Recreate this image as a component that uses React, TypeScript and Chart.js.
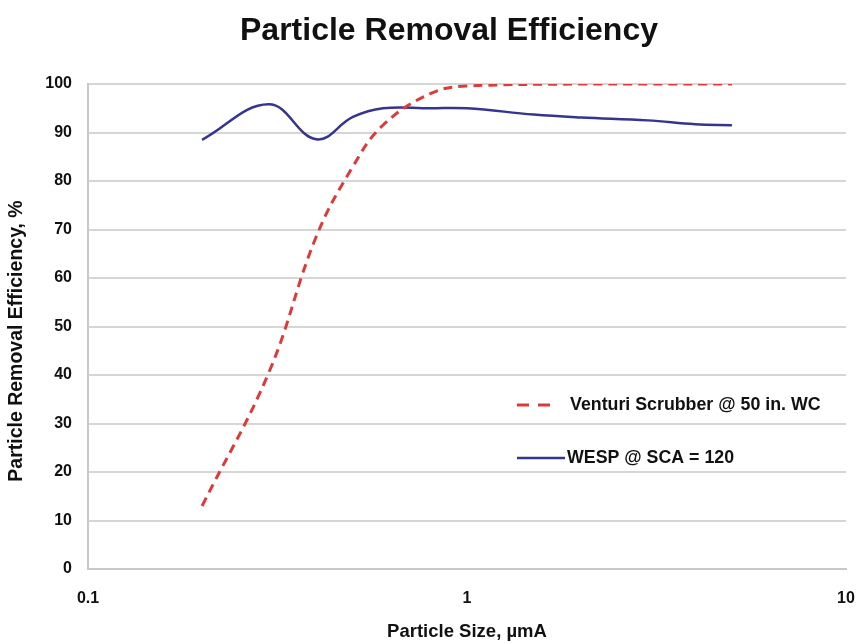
import React, { useEffect, useRef } from 'react';
import { Chart, registerables } from 'chart.js';

Chart.register(...registerables);

// Particle size (µmA) and removal efficiency (%)
const venturiSize = [0.2, 0.3, 0.4, 0.5, 0.6, 0.8, 1, 2, 3, 5];
const venturiEff = [13, 40.5, 68.5, 83, 91.5, 98, 99.6, 100, 100, 100];
const wespSize = [0.2, 0.3, 0.4, 0.5, 0.6, 0.8, 1, 1.5, 2, 3, 4, 5];
const wespEff = [88.5, 95.8, 88.6, 93.2, 95, 95, 95, 93.7, 93.1, 92.5, 91.7, 91.5];
const xTickValues = [0.1, 1, 10];
const seriesLabels = ['Venturi Scrubber @ 50 in. WC', 'WESP @ SCA = 120'];
const chartTitle = 'Particle Removal Efficiency';
const xTitle = 'Particle Size, µmA';
const yTitle = 'Particle Removal Efficiency, %';

const FONT = "'Liberation Sans', Arial, sans-serif";
const RED = '#dd3b3b';
const BLUE = '#35358f';

export default function App() {
  const ref = useRef<HTMLCanvasElement | null>(null);

  useEffect(() => {
    if (!ref.current) return;

    const titlePlugin = {
      id: 'customTitle',
      afterDraw(chart: any) {
        const ctx = chart.ctx;
        ctx.save();
        ctx.fillStyle = '#111';
        ctx.font = `bold 32px ${FONT}`;
        ctx.textAlign = 'center';
        ctx.textBaseline = 'middle';
        ctx.fillText(chartTitle, 449, 31);
        // rotated y-axis title
        ctx.translate(17, 341);
        ctx.rotate(-Math.PI / 2);
        ctx.font = `bold 19.5px ${FONT}`;
        ctx.fillText(yTitle, 0, 0);
        ctx.restore();
      },
    };

    const legendPlugin = {
      id: 'customLegend',
      afterDraw(chart: any) {
        const ctx = chart.ctx;
        const items = [
          { label: seriesLabels[0], color: RED, dash: [12, 9], y: 405, x1: 517, x2: 556, tx: 570 },
          { label: seriesLabels[1], color: BLUE, dash: [], y: 458, x1: 517, x2: 565, tx: 567 },
        ];
        ctx.save();
        for (const it of items) {
          ctx.beginPath();
          ctx.setLineDash(it.dash);
          ctx.strokeStyle = it.color;
          ctx.lineWidth = it.dash.length ? 3 : 2.5;
          ctx.moveTo(it.x1, it.y);
          ctx.lineTo(it.x2, it.y);
          ctx.stroke();
          ctx.setLineDash([]);
          ctx.fillStyle = '#111';
          ctx.font = `bold 17.8px ${FONT}`;
          ctx.textAlign = 'left';
          ctx.textBaseline = 'middle';
          ctx.fillText(it.label, it.tx, it.y);
        }
        ctx.restore();
      },
    };

    const chart = new Chart(ref.current, {
      type: 'line',
      data: {
        datasets: [
          {
            label: seriesLabels[0],
            data: venturiSize.map((x, i) => ({ x, y: venturiEff[i] })),
            borderColor: RED,
            borderWidth: 3,
            borderDash: [9, 6],
            pointRadius: 0,
            tension: 0.4,
            fill: false,
          },
          {
            label: seriesLabels[1],
            data: wespSize.map((x, i) => ({ x, y: wespEff[i] })),
            borderColor: BLUE,
            borderWidth: 2.5,
            pointRadius: 0,
            tension: 0.4,
            fill: false,
          },
        ],
      },
      options: {
        responsive: false,
        animation: false,
        layout: { padding: { top: 84, right: 15, left: 0, bottom: 0 } },
        plugins: {
          legend: { display: false },
          title: { display: false },
          tooltip: { enabled: false },
        },
        scales: {
          x: {
            type: 'logarithmic',
            min: 0.1,
            max: 10,
            afterBuildTicks: (scale: any) => {
              scale.ticks = xTickValues.map((v) => ({ value: v }));
            },
            afterFit: (scale: any) => {
              scale.height = 75;
              scale.paddingLeft = 0;
              scale.paddingRight = 0;
            },
            grid: { display: false, drawTicks: false },
            border: { display: true, color: '#c8c8c8', width: 2 },
            ticks: {
              padding: 20,
              color: '#111',
              font: { family: FONT, size: 16, weight: 'bold' },
              callback: (v: any) => String(v),
              maxRotation: 0,
              autoSkip: false,
            },
            title: {
              display: true,
              text: xTitle,
              color: '#111',
              font: { family: FONT, size: 18.5, weight: 'bold' },
              padding: { top: 0, bottom: 1 },
            },
          },
          y: {
            min: 0,
            max: 100,
            afterFit: (scale: any) => {
              scale.width = 88;
            },
            grid: { color: '#d6d6d6', lineWidth: 2, drawTicks: false },
            border: { display: true, color: '#c8c8c8', width: 2 },
            ticks: {
              stepSize: 10,
              padding: 16,
              color: '#111',
              font: { family: FONT, size: 16, weight: 'bold' },
            },
            title: { display: false },
          },
        },
      } as any,
      plugins: [titlePlugin, legendPlugin],
    });

    return () => chart.destroy();
  }, []);

  return (
    <div style={{ position: 'fixed', left: 0, top: 0, width: 861, height: 644, background: '#fff' }}>
      <canvas ref={ref} width={861} height={644} />
    </div>
  );
}
